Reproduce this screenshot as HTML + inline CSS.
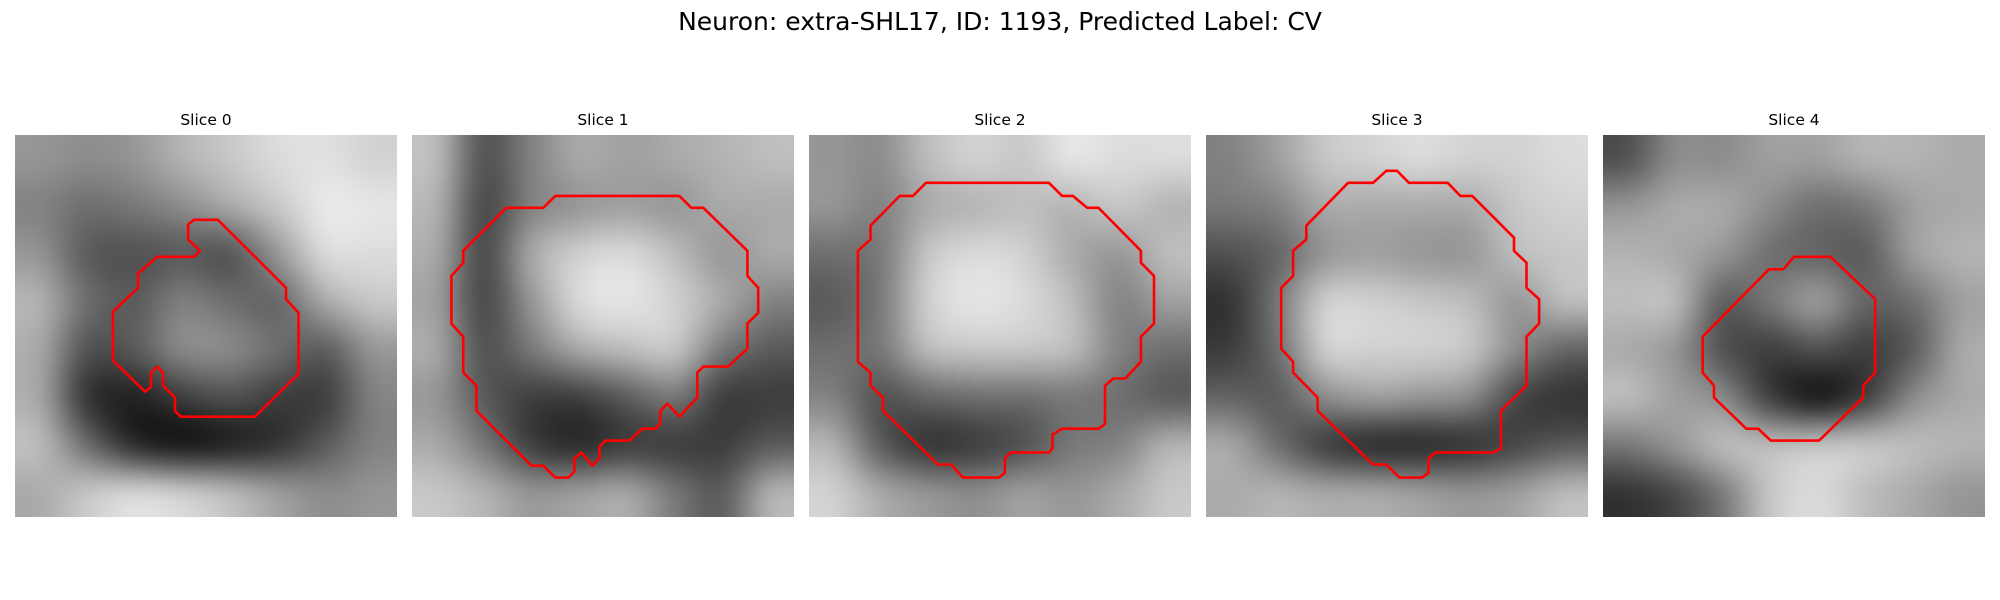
<!DOCTYPE html>
<html><head><meta charset="utf-8">
<style>
body{margin:0;background:#fff;width:2000px;height:600px;overflow:hidden;position:relative;font-family:"DejaVu Sans","Liberation Sans",sans-serif}
#title{position:absolute;left:0;top:7px;width:2000px;text-align:center;font-size:25px;color:#000}
.st{position:absolute;top:111px;width:382px;text-align:center;font-size:15.5px;color:#000}
canvas{position:absolute;top:135px}
svg{position:absolute;left:0;top:0}
</style></head>
<body>
<div id="title">Neuron: extra-SHL17, ID: 1193, Predicted Label: CV</div>
<div id="root"></div>
<svg id="ov" width="2000" height="600"></svg>
<script>
const sliceTitles=["Slice 0","Slice 1","Slice 2","Slice 3","Slice 4"];
const img0=[[150,140,150,180,200,220,225,210],[130,110,120,140,170,200,235,230],[150,90,80,90,80,150,220,220],[180,110,90,130,110,100,170,200],[170,80,90,140,140,110,90,150],[170,50,30,60,80,60,60,130],[190,110,40,20,30,50,90,130],[170,200,220,210,190,160,140,150]];
const img1=[[190,80,130,170,160,170,180,190],[180,70,130,150,160,150,170,170],[170,70,170,210,220,190,150,170],[160,70,150,220,230,210,170,130],[170,80,120,170,190,200,120,90],[150,90,60,60,90,120,60,60],[170,120,60,40,60,60,60,90],[200,180,150,160,170,120,90,180]];
const img2=[[150,140,190,210,200,230,220,220],[150,130,170,180,190,180,200,180],[110,120,200,220,210,170,150,190],[90,120,210,230,220,190,130,160],[110,120,190,200,200,190,130,110],[130,80,100,110,110,120,110,90],[180,90,50,60,80,120,130,180],[210,170,150,140,160,150,170,200]];
const img3=[[130,160,200,210,220,210,210,220],[120,130,170,170,170,170,200,210],[80,100,150,160,150,150,190,200],[50,120,210,210,200,190,150,190],[60,110,210,210,210,200,140,100],[100,90,140,160,150,140,70,50],[170,110,60,40,40,50,70,90],[170,180,170,170,160,150,160,190]];
const img4=[[80,140,140,160,160,180,180,170],[150,170,170,140,110,120,160,170],[180,170,150,110,100,90,160,180],[190,190,90,120,160,100,110,160],[170,150,80,60,80,60,90,170],[190,160,140,60,20,60,140,170],[120,150,190,190,200,200,190,180],[50,70,120,200,220,190,170,150]];
const contour0=[[15,7.1],[17,7.1],[22.7,12.8],[22.7,13.75],[23.75,14.9],[23.75,20],[20.1,23.6],[13.9,23.6],[13.4,23.1],[13.4,22],[12.4,21],[12.4,19.9],[11.9,19.4],[11.4,19.9],[11.4,21.1],[10.9,21.5],[8.2,18.9],[8.2,14.8],[10.3,12.8],[10.3,11.6],[11.9,10.2],[15,10.2],[15.5,9.7],[14.5,8.75],[14.5,7.5]];
const contour1=[[12,5.1],[22.4,5.1],[23.4,6.1],[24.4,6.1],[28.1,9.7],[28.1,11.8],[29,12.8],[29,14.9],[28.1,15.8],[28.1,17.9],[26.5,19.4],[24.4,19.4],[23.9,19.9],[23.9,22],[22.4,23.6],[21.4,22.5],[20.8,23.1],[20.8,24.2],[20.4,24.6],[19.3,24.6],[18.2,25.6],[16.2,25.6],[15.7,26.1],[15.7,27.1],[15.1,27.7],[14.2,26.6],[13.6,27.1],[13.6,28.2],[13.1,28.7],[12,28.7],[11,27.7],[10,27.7],[5.4,23.1],[5.4,21],[4.3,19.9],[4.3,16.9],[3.3,15.8],[3.3,11.8],[4.3,10.7],[4.3,9.7],[7.9,6.1],[11,6.1]];
const contour2=[[9.8,4],[20.1,4],[21.2,5.1],[22.1,5.1],[23.3,6.1],[24.25,6.1],[27.8,9.7],[27.8,10.7],[28.9,11.8],[28.9,15.8],[27.8,16.9],[27.8,19],[26.5,20.4],[25.5,20.4],[24.8,21],[24.8,24.2],[24.25,24.6],[21.2,24.6],[20.4,25.1],[20.4,26.25],[20.1,26.6],[16.9,26.6],[16.4,27.1],[16.4,28.3],[15.9,28.7],[12.9,28.7],[11.9,27.6],[10.8,27.6],[6.2,23.1],[6.2,22],[5.15,21],[5.15,19.9],[4.1,19],[4.1,9.7],[5.15,8.75],[5.15,7.6],[7.6,5.1],[8.7,5.1]];
const contour3=[[15.1,3],[16,3],[17,4],[20.25,4],[21.3,5.1],[22.3,5.1],[25.8,8.6],[25.8,9.7],[26.85,10.7],[26.85,12.8],[27.9,13.75],[27.9,15.8],[26.85,16.9],[26.85,21],[24.7,23.1],[24.7,26.25],[24.1,26.6],[19.2,26.6],[18.65,27.1],[18.65,28.3],[18.1,28.7],[16.2,28.7],[15.1,27.6],[14,27.6],[9.35,23.1],[9.35,22],[7.3,19.9],[7.3,19],[6.3,17.9],[6.3,12.8],[7.3,11.8],[7.3,9.7],[8.4,8.75],[8.4,7.6],[11.9,4],[14,4]];
const contour4=[[16,10.2],[19.05,10.2],[22.8,13.75],[22.8,19.9],[21.8,21],[21.8,22],[18.1,25.6],[14.05,25.6],[13,24.6],[12,24.6],[9.3,22],[9.3,21],[8.35,19.9],[8.35,16.9],[13.9,11.25],[15.1,11.25]];
const images=[img0,img1,img2,img3,img4];
const contours=[contour0,contour1,contour2,contour3,contour4];
const lefts=[15,412,809,1206,1603], W=382, TOP=135, GRID=32;
const root=document.getElementById('root'), ov=document.getElementById('ov');
const sx=v=>v*W/GRID;
images.forEach((im,i)=>{
  const t=document.createElement('div');t.className='st';t.style.left=lefts[i]+'px';t.textContent=sliceTitles[i];
  
  
  root.appendChild(t);
  const small=document.createElement('canvas');small.width=8;small.height=8;
  const sc=small.getContext('2d');const d=sc.createImageData(8,8);
  im.forEach((row,r)=>row.forEach((v,c)=>{const k=(r*8+c)*4;d.data[k]=d.data[k+1]=d.data[k+2]=v;d.data[k+3]=255;}));
  sc.putImageData(d,0,0);
  const cv=document.createElement('canvas');cv.width=W;cv.height=W;cv.style.left=lefts[i]+'px';
  
  
  const ctx=cv.getContext('2d');ctx.imageSmoothingEnabled=true;ctx.imageSmoothingQuality='high';
  ctx.drawImage(small,0,0,W,W);
  root.appendChild(cv);
  const p=document.createElementNS('http://www.w3.org/2000/svg','polygon');
  p.setAttribute('points',contours[i].map(q=>(lefts[i]+sx(q[0])).toFixed(1)+','+(TOP+sx(q[1])).toFixed(1)).join(' '));
  p.setAttribute('fill','none');p.setAttribute('stroke','#ff0000');p.setAttribute('stroke-width','2.6');p.setAttribute('stroke-linejoin','round');
  
  
  ov.appendChild(p);
});
</script>
</body></html>
